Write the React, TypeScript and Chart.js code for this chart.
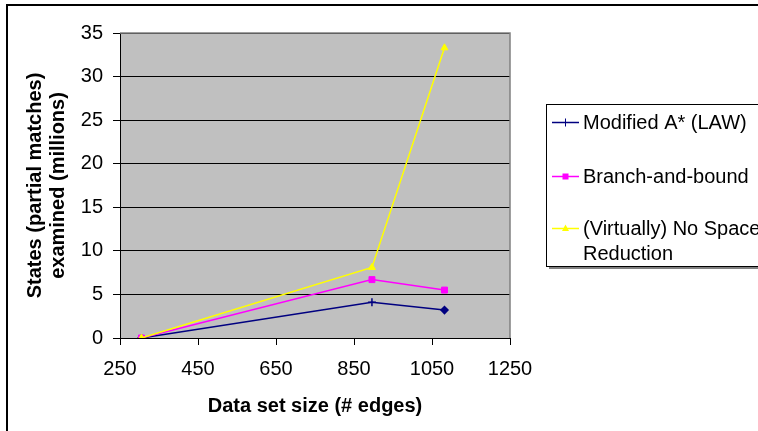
import React, { useEffect, useRef } from "react";
import { Chart, registerables } from "chart.js";

Chart.register(...registerables);

const SIZES = [305, 896, 1082];
const MODIFIED_ASTAR = [0, 4.1, 3.2];
const BRANCH_BOUND = [0, 6.7, 5.5];
const NO_REDUCTION = [0, 8.1, 33.3];
const X_TICKS = [250, 450, 650, 850, 1050, 1250];
const Y_TICKS = [0, 5, 10, 15, 20, 25, 30, 35];
const SERIES_NAMES = ["Modified A* (LAW)", "Branch-and-bound", "(Virtually) No Space Reduction"];
const LEGEND_LINES = [["Modified A* (LAW)"], ["Branch-and-bound"], ["(Virtually) No Space", "Reduction"]];
const COLORS = ["#000080", "#FF00FF", "#FFFF00"];

const FAMILY = "'Liberation Sans', Arial, Helvetica, sans-serif";

function drawMarker(ctx: CanvasRenderingContext2D, kind: string, x: number, y: number, color: string) {
  ctx.save();
  ctx.fillStyle = color;
  ctx.strokeStyle = color;
  ctx.lineWidth = 1;
  if (kind === "cross") {
    ctx.beginPath();
    ctx.moveTo(x, y - 4);
    ctx.lineTo(x, y + 4);
    ctx.moveTo(x - 4, y);
    ctx.lineTo(x + 4, y);
    ctx.stroke();
  } else if (kind === "rect") {
    ctx.fillRect(x - 3, y - 3, 6, 6);
  } else if (kind === "triangle") {
    ctx.beginPath();
    ctx.moveTo(x, y - 4);
    ctx.lineTo(x + 3.5, y + 2.5);
    ctx.lineTo(x - 3.5, y + 2.5);
    ctx.closePath();
    ctx.fill();
  }
  ctx.restore();
}

const framePlugin = {
  id: "frameAndLegend",
  beforeDraw(chart: any) {
    const { ctx, chartArea } = chart;
    ctx.save();
    ctx.fillStyle = "#C0C0C0";
    ctx.fillRect(chartArea.left, chartArea.top, chartArea.right - chartArea.left, chartArea.bottom - chartArea.top);
    ctx.restore();
  },
  afterDatasetsDraw(chart: any) {
    const { ctx, chartArea } = chart;
    ctx.save();
    ctx.strokeStyle = "#808080";
    ctx.lineWidth = 1.5;
    ctx.beginPath();
    ctx.moveTo(chartArea.left, chartArea.top);
    ctx.lineTo(chartArea.right, chartArea.top);
    ctx.lineTo(chartArea.right, chartArea.bottom);
    ctx.stroke();
    ctx.restore();
  },
  afterDraw(chart: any) {
    const { ctx } = chart;
    ctx.save();
    ctx.strokeStyle = "#000";
    ctx.lineWidth = 2;
    ctx.strokeRect(7, 5, 1000, 1000);

    ctx.fillStyle = "#808080";
    ctx.fillRect(549, 267, 400, 2);
    ctx.fillStyle = "#FFFFFF";
    ctx.fillRect(546.5, 104.5, 400, 162);
    ctx.strokeStyle = "#000";
    ctx.lineWidth = 1;
    ctx.strokeRect(546.5, 104.5, 400, 162);

    const rows = [122, 176, 228];
    const kinds = ["cross", "rect", "triangle"];
    ctx.font = `20px ${FAMILY}`;
    ctx.textBaseline = "middle";
    ctx.textAlign = "left";
    rows.forEach((y, i) => {
      ctx.strokeStyle = COLORS[i];
      ctx.lineWidth = 1.5;
      ctx.beginPath();
      ctx.moveTo(552, y + 0.5);
      ctx.lineTo(579, y + 0.5);
      ctx.stroke();
      drawMarker(ctx, kinds[i], 565.5, y + 0.5, COLORS[i]);
      ctx.fillStyle = "#000";
      LEGEND_LINES[i].forEach((t, j) => {
        ctx.fillText(t, 583, y + 1 + j * 25);
      });
    });
    ctx.restore();
  },
};

export default function App() {
  const ref = useRef<HTMLCanvasElement | null>(null);

  useEffect(() => {
    document.body.style.margin = "0";
    if (!ref.current) return;
    const chart = new Chart(ref.current, {
      type: "line",
      data: {
        datasets: [
          {
            label: SERIES_NAMES[0],
            data: SIZES.map((x, i) => ({ x, y: MODIFIED_ASTAR[i] })),
            borderColor: COLORS[0],
            backgroundColor: COLORS[0],
            borderWidth: 1.5,
            pointStyle: ["cross", "cross", "rectRot"] as any,
            pointRadius: [4, 4, 3.5] as any,
            pointBorderWidth: 1.5,
            order: 3,
            tension: 0,
          },
          {
            label: SERIES_NAMES[1],
            data: SIZES.map((x, i) => ({ x, y: BRANCH_BOUND[i] })),
            borderColor: COLORS[1],
            backgroundColor: COLORS[1],
            borderWidth: 1.5,
            pointStyle: "rect",
            pointRadius: 4.2,
            pointBorderWidth: 1,
            order: 2,
            tension: 0,
          },
          {
            label: SERIES_NAMES[2],
            data: SIZES.map((x, i) => ({ x, y: NO_REDUCTION[i] })),
            borderColor: COLORS[2],
            backgroundColor: COLORS[2],
            borderWidth: 1.5,
            pointStyle: "triangle",
            pointRadius: 4,
            pointBorderWidth: 1,
            order: 1,
            tension: 0,
          },
        ],
      },
      options: {
        responsive: false,
        animation: false,
        devicePixelRatio: 1,
        layout: { padding: { top: 33, right: 248, left: 0, bottom: 0 } },
        plugins: {
          legend: { display: false },
          tooltip: { enabled: false },
        },
        scales: {
          x: {
            type: "linear",
            min: 250,
            max: 1250,
            afterBuildTicks: (s: any) => {
              s.ticks = X_TICKS.map((v) => ({ value: v }));
            },
            afterFit: (s: any) => {
              s.height = 93;
            },
            ticks: {
              font: { size: 20, family: FAMILY },
              color: "#000",
              padding: 12,
              maxRotation: 0,
              autoSkip: false,
              callback: (v: any) => String(v),
            },
            grid: {
              drawOnChartArea: false,
              drawTicks: true,
              tickLength: 7,
              color: "#000",
            },
            border: { color: "#000", width: 1 },
            title: {
              display: true,
              text: "Data set size (# edges)",
              font: { size: 20, weight: "bold", family: FAMILY },
              color: "#000",
              padding: { top: 0, bottom: 13 },
            },
          },
          y: {
            type: "linear",
            min: 0,
            max: 35,
            afterBuildTicks: (s: any) => {
              s.ticks = Y_TICKS.map((v) => ({ value: v }));
            },
            afterFit: (s: any) => {
              s.width = 120;
            },
            ticks: {
              font: { size: 20, family: FAMILY },
              color: "#000",
              padding: 10,
              callback: (v: any) => String(v),
            },
            grid: {
              drawTicks: true,
              tickLength: 7,
              color: "#000",
              lineWidth: 1,
            },
            border: { color: "#000", width: 1 },
            title: {
              display: true,
              text: ["States (partial matches)", "examined (millions)"],
              font: { size: 20, weight: "bold", family: FAMILY, lineHeight: 1.15 },
              color: "#000",
              padding: { top: 23.5, bottom: 0 },
            },
          },
        },
      },
      plugins: [framePlugin],
    } as any);
    return () => chart.destroy();
  }, []);

  return (
    <div style={{ position: "fixed", left: 0, top: 0, width: 758, height: 431 }}>
      <canvas ref={ref} width={758} height={431} style={{ width: 758, height: 431, display: "block" }} />
    </div>
  );
}
